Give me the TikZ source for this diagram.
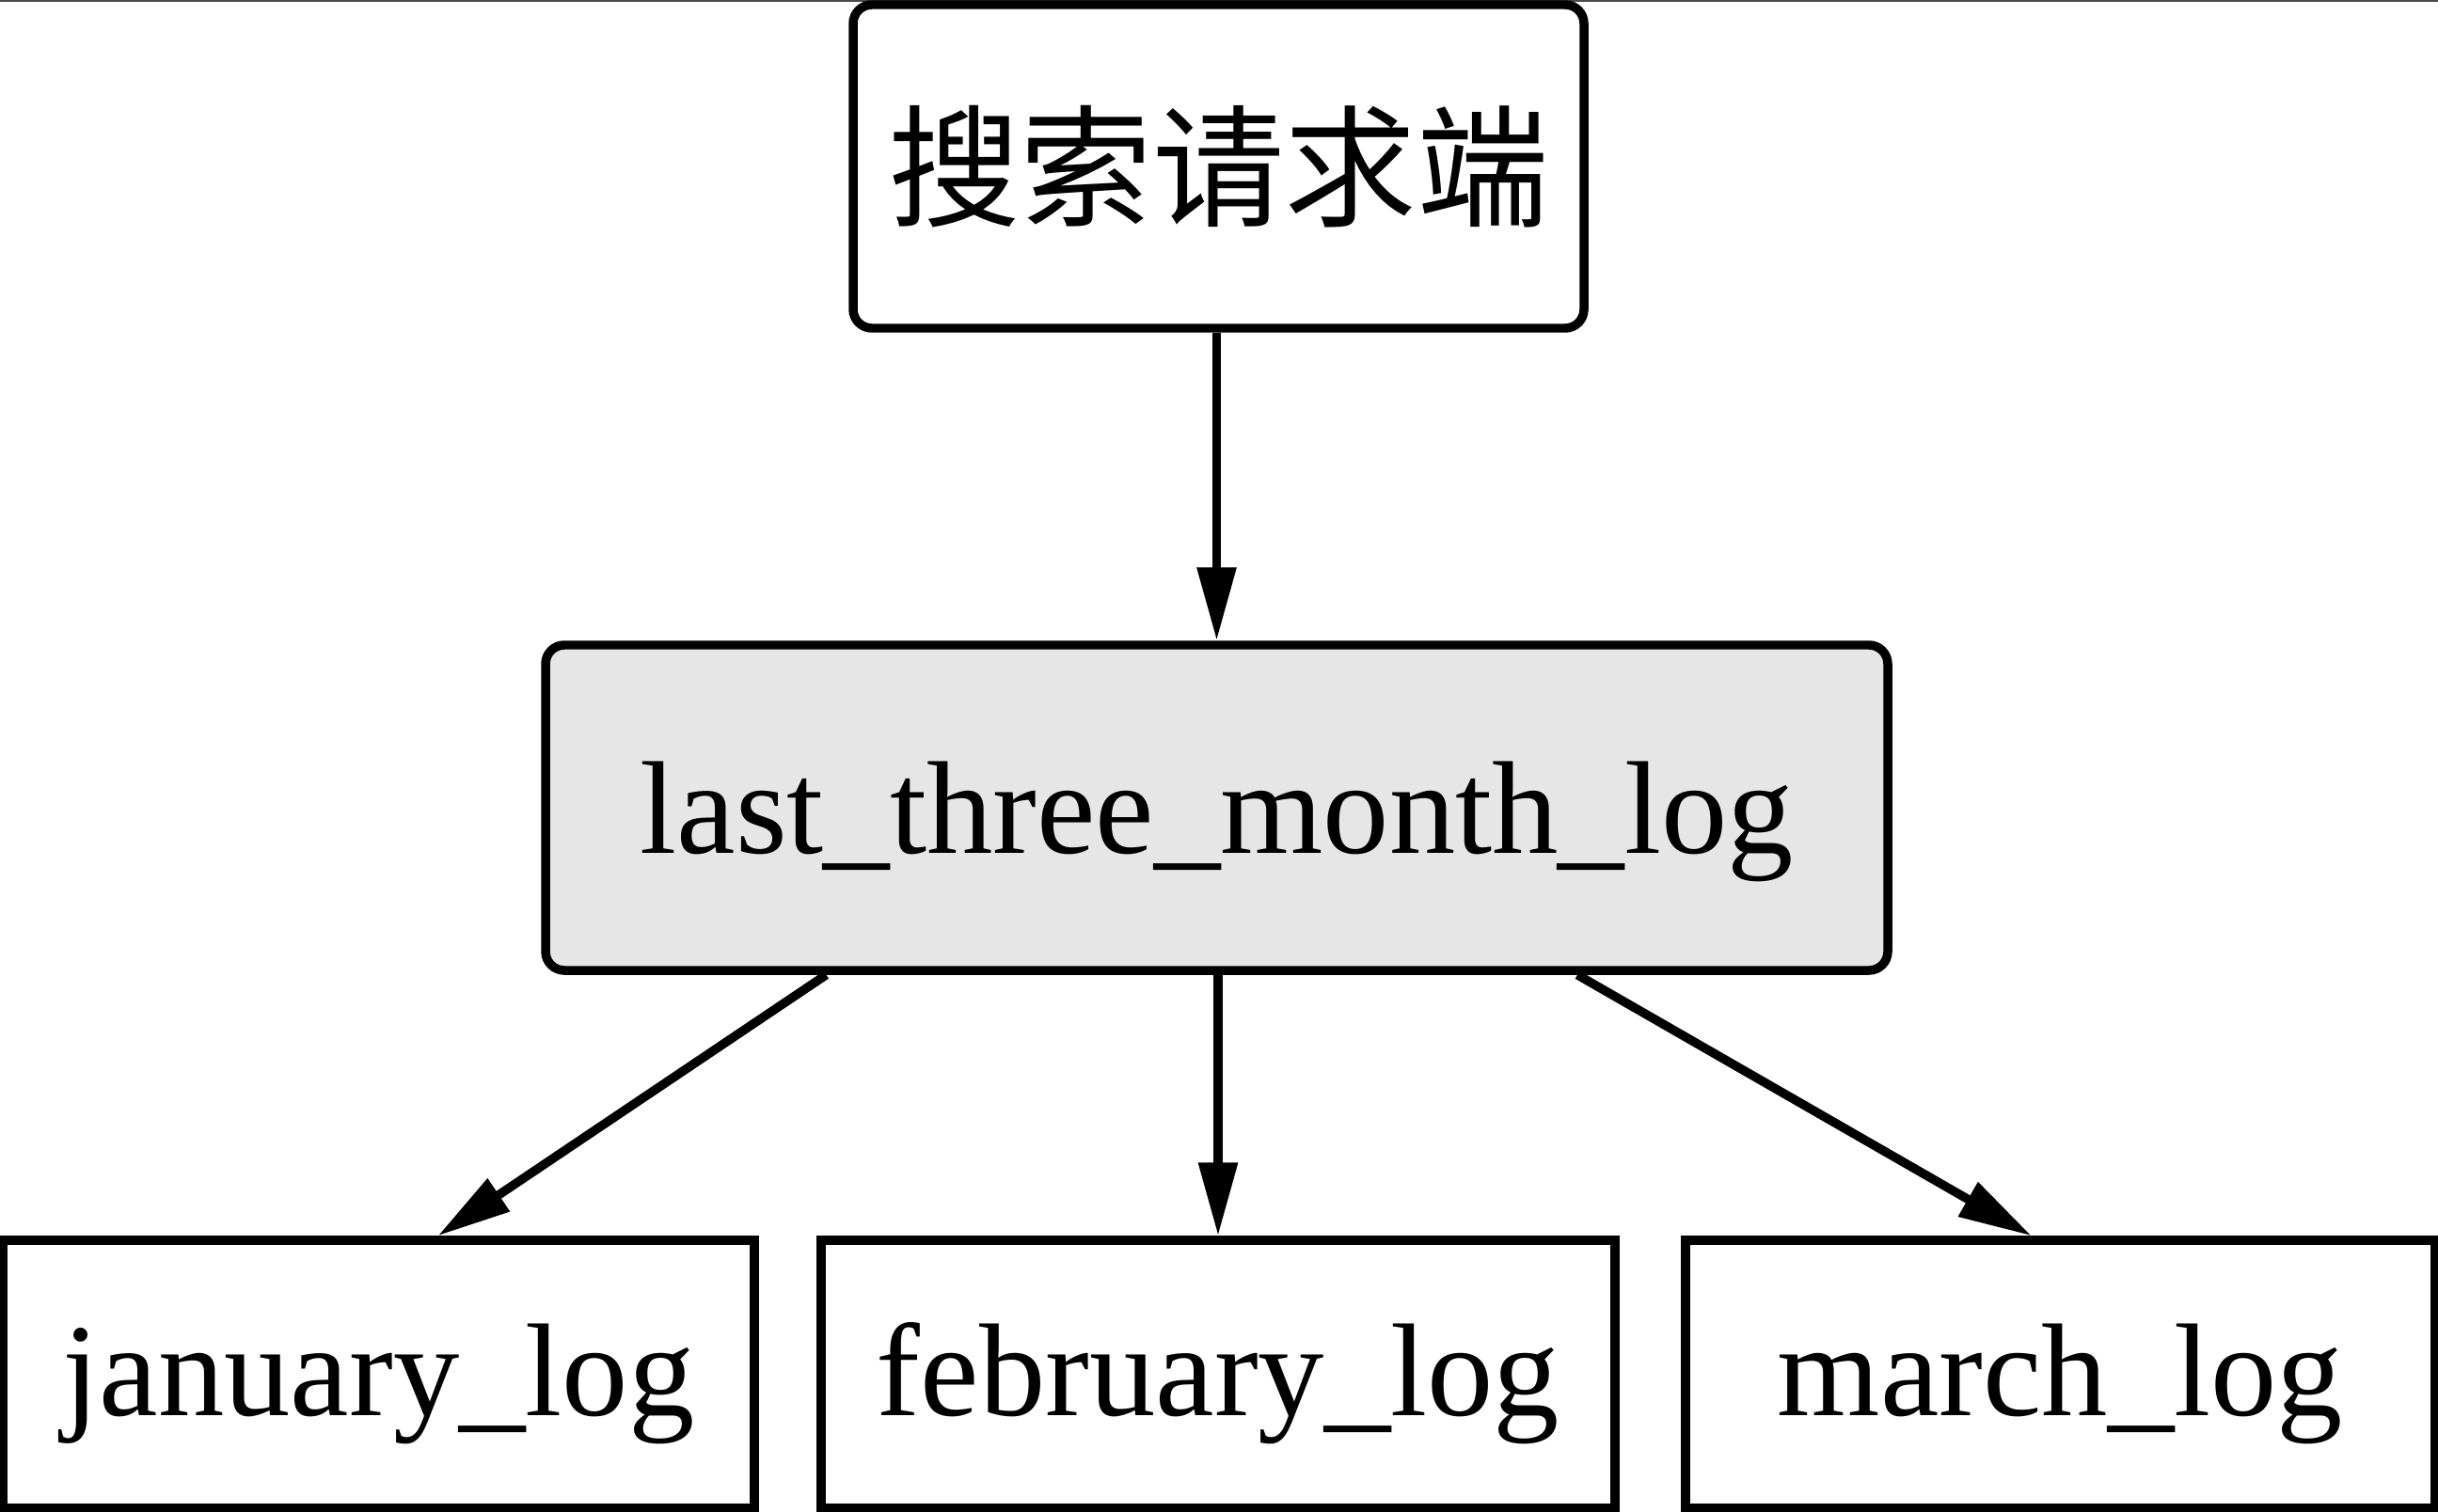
\documentclass[tikz,border=0pt]{standalone}
\usepackage{fontspec}
\setmainfont{Liberation Serif}
\newfontfamily\cjk{Noto Sans CJK SC}
\usetikzlibrary{arrows.meta,calc}
\definecolor{boxgray}{HTML}{E6E6E6}
\tikzset{
  base/.style={draw=black, line width=2.7pt, font=\fontsize{40}{48}\selectfont, inner sep=0pt, anchor=center},
  roundbox/.style={base, rounded corners=0.2cm},
  plainbox/.style={base, text depth=3pt},
  conn/.style={line width=2.7pt, -{Triangle[length=0.78cm,width=0.40cm]}}
}
\begin{document}
\begin{tikzpicture}
\useasboundingbox (0,0) rectangle (25.92,-16.08);
\draw[line width=0.6pt, black!70] (0,-0.01) -- (25.92,-0.01);
\node[roundbox, fill=white, minimum width=7.77cm, minimum height=3.44cm] (top) at (12.955,-1.77) {\cjk 搜索请求端};
\node[roundbox, fill=boxgray, text depth=0pt, minimum width=14.27cm, minimum height=3.46cm] (mid) at (12.935,-8.59) {last\_three\_month\_log};
\node[plainbox, fill=white, minimum width=7.99cm, minimum height=2.85cm] (jan) at (4.025,-14.615) {january\_log};
\node[plainbox, fill=white, minimum width=8.44cm, minimum height=2.85cm] (feb) at (12.95,-14.615) {february\_log};
\node[plainbox, fill=white, minimum width=7.97cm, minimum height=2.85cm] (mar) at (21.905,-14.615) {march\_log};
\draw[conn] (top.south -| mid.north) -- (mid.north);
\draw[conn] ($(mid.south west)!0.211!(mid.south east)$) -- ($(jan.north west)!0.578!(jan.north east)$);
\draw[conn] (mid.south -| feb.north) -- (feb.north);
\draw[conn] ($(mid.south west)!0.767!(mid.south east)$) -- ($(mar.north west)!0.462!(mar.north east)$);
\end{tikzpicture}
\end{document}
